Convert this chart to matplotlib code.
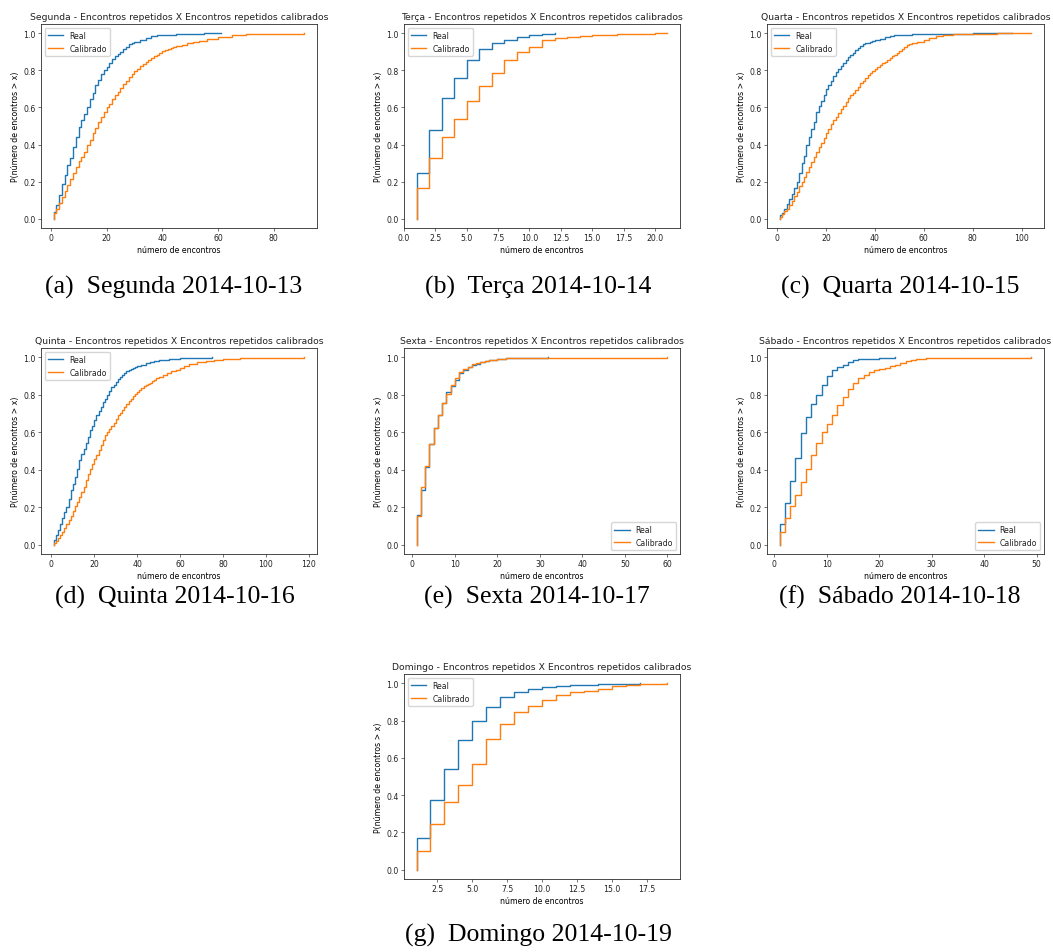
"""
Encontros repetidos: ECDF real x calibrado, um painel por dia da semana.
"""

import matplotlib
matplotlib.use("Agg")
import matplotlib.pyplot as plt

# ---- data --------------------------------------------------------------
days = ["Segunda", "Terça", "Quarta", "Quinta", "Sexta", "Sábado", "Domingo"]
dates = ["2014-10-13", "2014-10-14", "2014-10-15", "2014-10-16",
         "2014-10-17", "2014-10-18", "2014-10-19"]
letters = ["a", "b", "c", "d", "e", "f", "g"]
legend_locs = ["upper left", "upper left", "upper left", "upper left",
               "lower right", "lower right", "upper left"]

seg_real_x = list(range(1, 31)) + [32, 34, 36, 38, 40, 45, 50, 55, 61]
seg_real_y = [0.035, 0.075, 0.13, 0.185, 0.235, 0.29, 0.33, 0.385, 0.44, 0.495,
              0.53, 0.565, 0.605, 0.645, 0.68, 0.72, 0.75, 0.78, 0.80, 0.82,
              0.84, 0.86, 0.875, 0.89, 0.90, 0.915, 0.925, 0.94, 0.95, 0.955,
              0.965, 0.975, 0.985, 0.99, 0.993, 0.997, 0.998, 0.999, 1.0]
seg_cal_x = list(range(1, 46)) + [47, 49, 51, 53, 56, 60, 65, 70, 80, 91]
seg_cal_y = [0.03, 0.055, 0.085, 0.115, 0.15, 0.18, 0.215, 0.245, 0.28, 0.31,
             0.335, 0.36, 0.395, 0.425, 0.46, 0.49, 0.52, 0.55, 0.575, 0.60,
             0.62, 0.645, 0.665, 0.685, 0.705, 0.725, 0.745, 0.765, 0.78, 0.795,
             0.81, 0.825, 0.835, 0.845, 0.855, 0.865, 0.875, 0.885, 0.895, 0.905,
             0.91, 0.915, 0.92, 0.925, 0.93, 0.935, 0.945, 0.955, 0.96, 0.97,
             0.98, 0.99, 0.995, 0.998, 1.0]

ter_real_x = [1, 2, 3, 4, 5, 6, 7, 8, 9, 10, 11, 12]
ter_real_y = [0.245, 0.48, 0.65, 0.76, 0.855, 0.915, 0.945, 0.965, 0.98, 0.988,
              0.995, 1.0]
ter_cal_x = list(range(1, 22))
ter_cal_y = [0.165, 0.325, 0.44, 0.54, 0.635, 0.715, 0.785, 0.855, 0.90, 0.925,
             0.965, 0.975, 0.98, 0.985, 0.99, 0.993, 0.995, 0.997, 0.998, 0.999,
             1.0]

qua_real_x = list(range(1, 37)) + [38, 39, 40, 42, 44, 46, 48, 50, 55, 60, 70, 80, 96]
qua_real_y = [0.02, 0.03, 0.05, 0.08, 0.105, 0.135, 0.165, 0.20, 0.245, 0.30,
              0.34, 0.40, 0.44, 0.485, 0.52, 0.575, 0.61, 0.635, 0.665, 0.70,
              0.72, 0.745, 0.77, 0.79, 0.81, 0.825, 0.84, 0.855, 0.87, 0.885,
              0.895, 0.91, 0.92, 0.93, 0.94, 0.95, 0.955, 0.96, 0.965, 0.97,
              0.98, 0.985, 0.99, 0.993, 0.995, 0.997, 0.998, 0.999, 1.0]
qua_cal_x = list(range(1, 56)) + [57, 60, 62, 65, 68, 72, 78, 90, 104]
qua_cal_y = [0.01, 0.025, 0.04, 0.055, 0.075, 0.095, 0.12, 0.145, 0.175, 0.20,
             0.225, 0.25, 0.28, 0.305, 0.335, 0.36, 0.385, 0.41, 0.435, 0.46,
             0.485, 0.51, 0.53, 0.55, 0.57, 0.59, 0.61, 0.63, 0.65, 0.665,
             0.68, 0.695, 0.71, 0.73, 0.745, 0.76, 0.775, 0.785, 0.795, 0.81,
             0.82, 0.83, 0.84, 0.845, 0.855, 0.865, 0.875, 0.885, 0.895, 0.905,
             0.915, 0.925, 0.935, 0.94, 0.945, 0.955, 0.965, 0.975, 0.985, 0.99,
             0.995, 0.998, 0.999, 1.0]

qui_real_x = list(range(1, 41)) + [42, 44, 46, 48, 50, 55, 60, 65, 75]
qui_real_y = [0.025, 0.05, 0.08, 0.11, 0.14, 0.175, 0.20, 0.245, 0.29, 0.325,
              0.36, 0.405, 0.45, 0.485, 0.51, 0.545, 0.575, 0.61, 0.635, 0.665,
              0.69, 0.715, 0.735, 0.76, 0.78, 0.80, 0.82, 0.84, 0.855, 0.87,
              0.885, 0.895, 0.905, 0.915, 0.925, 0.93, 0.94, 0.945, 0.95, 0.955,
              0.96, 0.97, 0.975, 0.98, 0.985, 0.99, 0.995, 0.998, 1.0]
qui_cal_x = list(range(1, 51)) + [52, 54, 56, 58, 60, 62, 64, 68, 72, 76, 80, 88, 95, 118]
qui_cal_y = [0.01, 0.02, 0.035, 0.05, 0.07, 0.09, 0.11, 0.13, 0.155, 0.18,
             0.205, 0.23, 0.255, 0.28, 0.31, 0.345, 0.375, 0.405, 0.43, 0.455,
             0.48, 0.505, 0.53, 0.56, 0.585, 0.60, 0.615, 0.635, 0.65, 0.67,
             0.69, 0.705, 0.72, 0.735, 0.75, 0.765, 0.78, 0.795, 0.805, 0.815,
             0.825, 0.835, 0.845, 0.85, 0.86, 0.865, 0.875, 0.88, 0.89, 0.895,
             0.905, 0.915, 0.925, 0.935, 0.945, 0.955, 0.965, 0.975, 0.98, 0.985,
             0.99, 0.995, 0.998, 1.0]

sex_real_x = list(range(1, 23)) + [25, 28, 32]
sex_real_y = [0.16, 0.29, 0.415, 0.535, 0.625, 0.69, 0.755, 0.815, 0.845, 0.88,
              0.915, 0.935, 0.95, 0.96, 0.965, 0.975, 0.98, 0.985, 0.988, 0.99,
              0.993, 0.996, 0.998, 0.999, 1.0]
sex_cal_x = list(range(1, 21)) + [22, 25, 30, 60]
sex_cal_y = [0.155, 0.31, 0.42, 0.54, 0.625, 0.69, 0.755, 0.805, 0.85, 0.89,
             0.92, 0.94, 0.95, 0.965, 0.97, 0.975, 0.98, 0.985, 0.988, 0.99,
             0.995, 0.998, 0.999, 1.0]

sab_real_x = list(range(1, 17)) + [18, 20, 23]
sab_real_y = [0.11, 0.225, 0.34, 0.46, 0.595, 0.68, 0.75, 0.80, 0.85, 0.90,
              0.93, 0.95, 0.96, 0.975, 0.985, 0.99, 0.993, 0.997, 1.0]
sab_cal_x = list(range(1, 31)) + [35, 49]
sab_cal_y = [0.07, 0.14, 0.205, 0.265, 0.335, 0.405, 0.48, 0.545, 0.60, 0.645,
             0.69, 0.745, 0.79, 0.83, 0.865, 0.89, 0.905, 0.92, 0.93, 0.94,
             0.945, 0.955, 0.96, 0.97, 0.98, 0.985, 0.99, 0.993, 0.996, 0.998,
             0.999, 1.0]

dom_real_x = list(range(1, 18))
dom_real_y = [0.17, 0.375, 0.54, 0.695, 0.80, 0.875, 0.925, 0.955, 0.97, 0.98,
              0.985, 0.99, 0.993, 0.996, 0.998, 0.999, 1.0]
dom_cal_x = list(range(1, 20))
dom_cal_y = [0.10, 0.245, 0.365, 0.455, 0.565, 0.70, 0.78, 0.845, 0.88, 0.91,
             0.935, 0.955, 0.96, 0.97, 0.985, 0.992, 0.996, 0.998, 1.0]

series = [
    (seg_real_x, seg_real_y, seg_cal_x, seg_cal_y),
    (ter_real_x, ter_real_y, ter_cal_x, ter_cal_y),
    (qua_real_x, qua_real_y, qua_cal_x, qua_cal_y),
    (qui_real_x, qui_real_y, qui_cal_x, qui_cal_y),
    (sex_real_x, sex_real_y, sex_cal_x, sex_cal_y),
    (sab_real_x, sab_real_y, sab_cal_x, sab_cal_y),
    (dom_real_x, dom_real_y, dom_cal_x, dom_cal_y),
]

# ---- layout (pixels: left, top, right, bottom) -----------------------------
W, H = 1053, 953
S = 0.555  # the panels are shrunken default matplotlib figures
boxes = [
    (41, 25, 317, 229), (404, 25, 680, 229), (767, 25, 1044, 229),
    (41, 349, 317, 555), (404, 349, 680, 555), (767, 349, 1044, 555),
    (404, 675, 680, 880),
]
captions_xy = [(174, 287), (538, 287), (900, 287),
               (175, 597), (537, 597), (900, 597),
               (538, 935)]

plt.rcParams.update({
    "font.size": 10 * S,
    "axes.linewidth": 0.8 * S * 1.4,
    "axes.edgecolor": "#333333",
    "xtick.major.size": 3.5 * S,
    "ytick.major.size": 3.5 * S,
    "xtick.major.width": 0.8 * S,
    "ytick.major.width": 0.8 * S,
    "xtick.major.pad": 3.5 * S,
    "ytick.major.pad": 3.5 * S,
    "axes.labelpad": 4 * S,
    "text.color": "#222222",
    "xtick.color": "#222222",
    "ytick.color": "#222222",
})

fig = plt.figure(figsize=(W / 100, H / 100), dpi=100)

for i, (rx, ry, cx, cy) in enumerate(series):
    l, t, r, b = boxes[i]
    ax = fig.add_axes([l / W, 1 - b / H, (r - l) / W, (b - t) / H])
    ax.plot([rx[0]] + rx, [0.0] + ry, drawstyle="steps-post",
            color="#1f77b4", lw=1.0, label="Real")
    ax.plot([cx[0]] + cx, [0.0] + cy, drawstyle="steps-post",
            color="#ff7f0e", lw=1.0, label="Calibrado")
    ax.set_title(f"{days[i]} - Encontros repetidos X Encontros repetidos calibrados",
                 fontsize=12 * S, pad=6 * S)
    ax.set_xlabel("número de encontros")
    ax.set_ylabel("P(número de encontros > x)")
    ax.legend(loc=legend_locs[i])

    cx_px, cy_px = captions_xy[i]
    fig.text(cx_px / W, 1 - cy_px / H, f"({letters[i]})  {days[i]} {dates[i]}",
             ha="center", va="center", family="Liberation Serif",
             fontsize=18.5, color="black")

fig.savefig("out.png", dpi=100)
